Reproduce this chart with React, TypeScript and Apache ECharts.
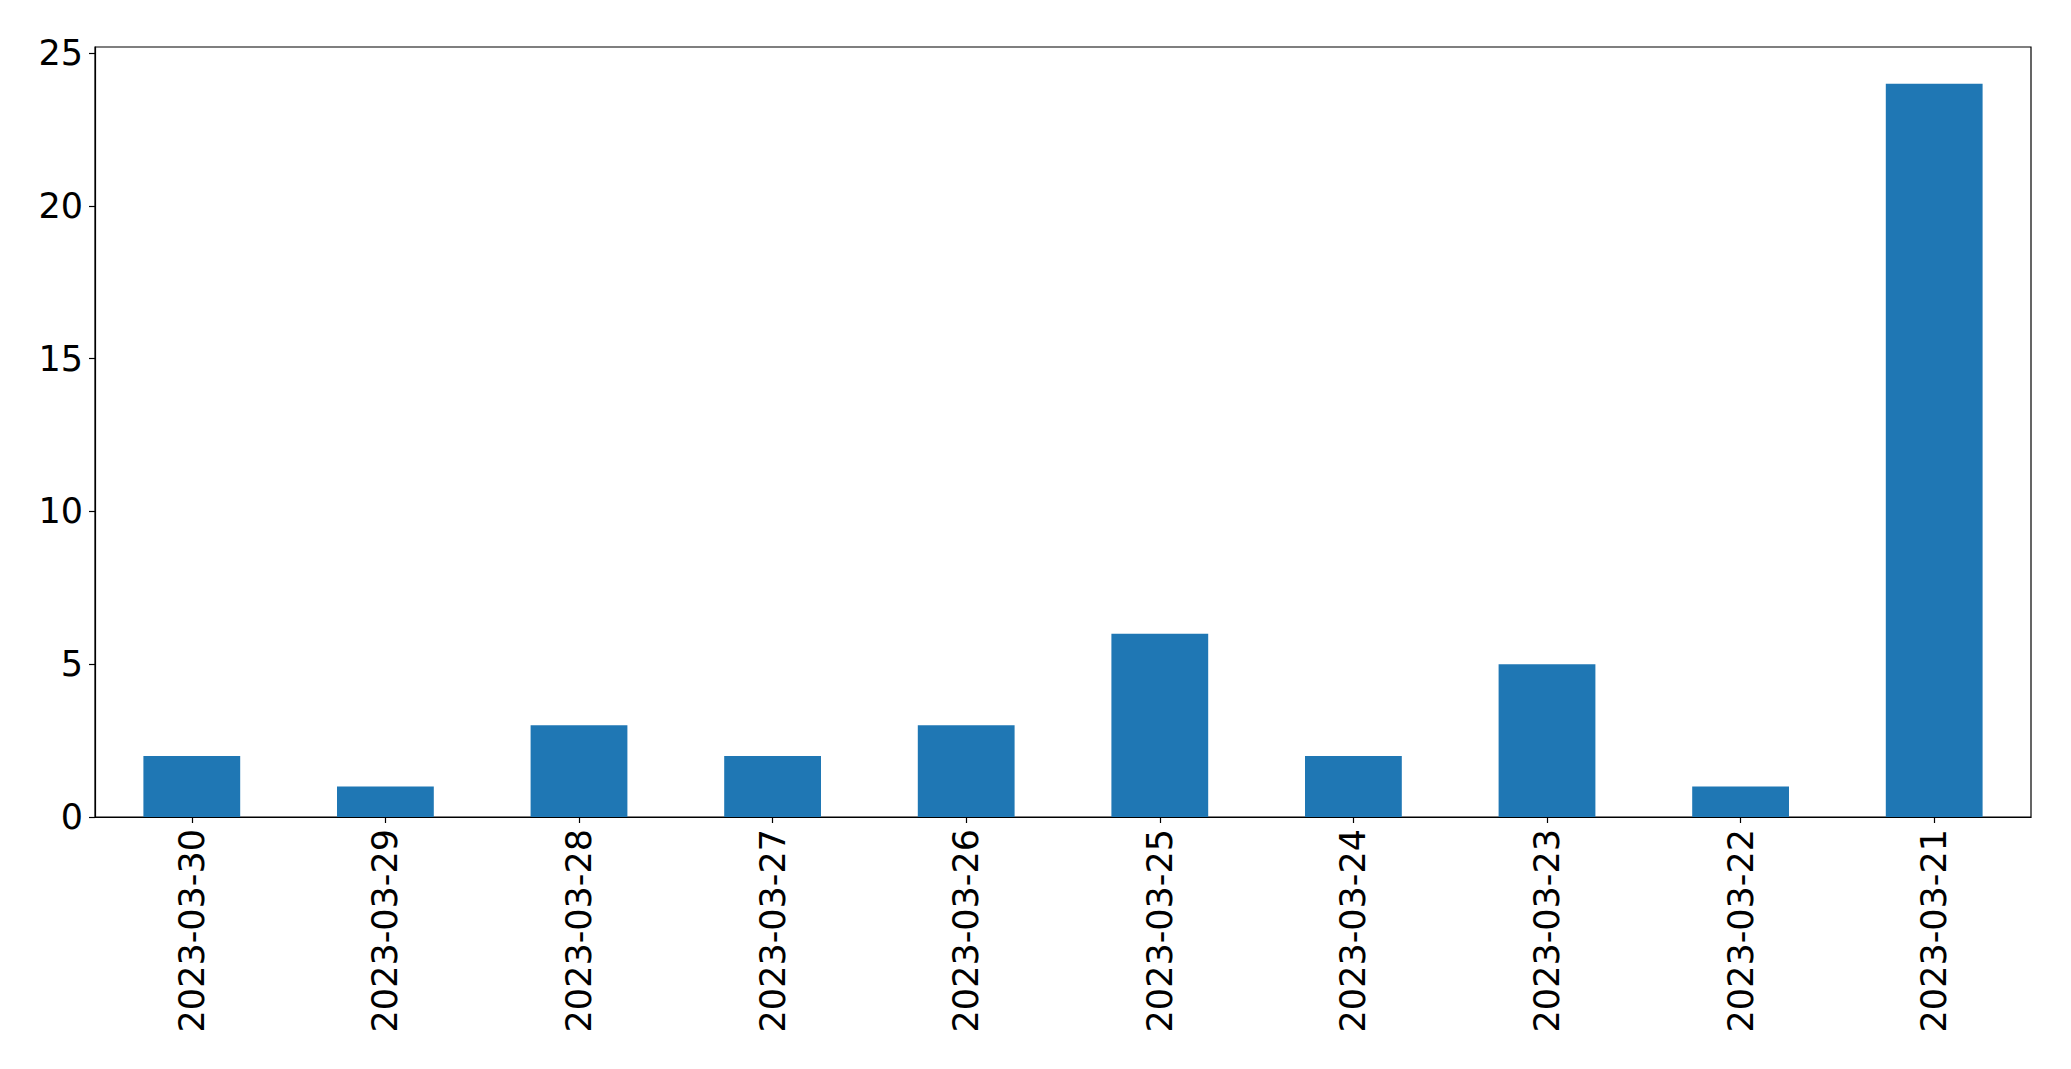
import React, { useEffect, useRef } from "react";
import * as echarts from "echarts";

const categories = [
  "2023-03-30",
  "2023-03-29",
  "2023-03-28",
  "2023-03-27",
  "2023-03-26",
  "2023-03-25",
  "2023-03-24",
  "2023-03-23",
  "2023-03-22",
  "2023-03-21",
];
const values = [2, 1, 3, 2, 3, 6, 2, 5, 1, 24];
const yTicks = [0, 5, 10, 15, 20, 25];
const yMax = 25.2;

export default function App() {
  const ref = useRef<HTMLDivElement>(null);
  useEffect(() => {
    document.body.style.margin = "0";
    const chart = echarts.init(ref.current!, null, { renderer: "svg" });
    const font = "DejaVu Sans";
    chart.setOption({
      animation: false,
      backgroundColor: "#ffffff",
      grid: {
        left: 95,
        top: 47,
        right: 40,
        bottom: 252,
        show: true,
        borderColor: "#000000",
        borderWidth: 1.2,
        backgroundColor: "transparent",
      },
      xAxis: {
        type: "category",
        data: categories,
        boundaryGap: true,
        axisLine: { show: true, lineStyle: { color: "#000000", width: 1.2 } },
        axisTick: {
          show: true,
          alignWithLabel: true,
          length: 6,
          lineStyle: { color: "#000000", width: 1.2 },
        },
        axisLabel: {
          rotate: 90,
          interval: 0,
          margin: 12,
          fontSize: 35,
          fontFamily: font,
          color: "#000000",
        },
        splitLine: { show: false },
      },
      yAxis: {
        type: "value",
        min: 0,
        max: yMax,
        axisLine: { show: true, lineStyle: { color: "#000000", width: 1.2 } },
        axisTick: {
          show: true,
          length: 6,
          customValues: yTicks,
          lineStyle: { color: "#000000", width: 1.2 },
        },
        axisLabel: {
          customValues: yTicks,
          margin: 12,
          fontSize: 35,
          fontFamily: font,
          color: "#000000",
        },
        splitLine: { show: false },
      },
      series: [
        {
          type: "bar",
          data: values,
          barWidth: "50%",
          itemStyle: { color: "#1f77b4" },
        },
      ],
    });
    return () => chart.dispose();
  }, []);
  return <div ref={ref} style={{ width: 2071, height: 1069 }} />;
}
